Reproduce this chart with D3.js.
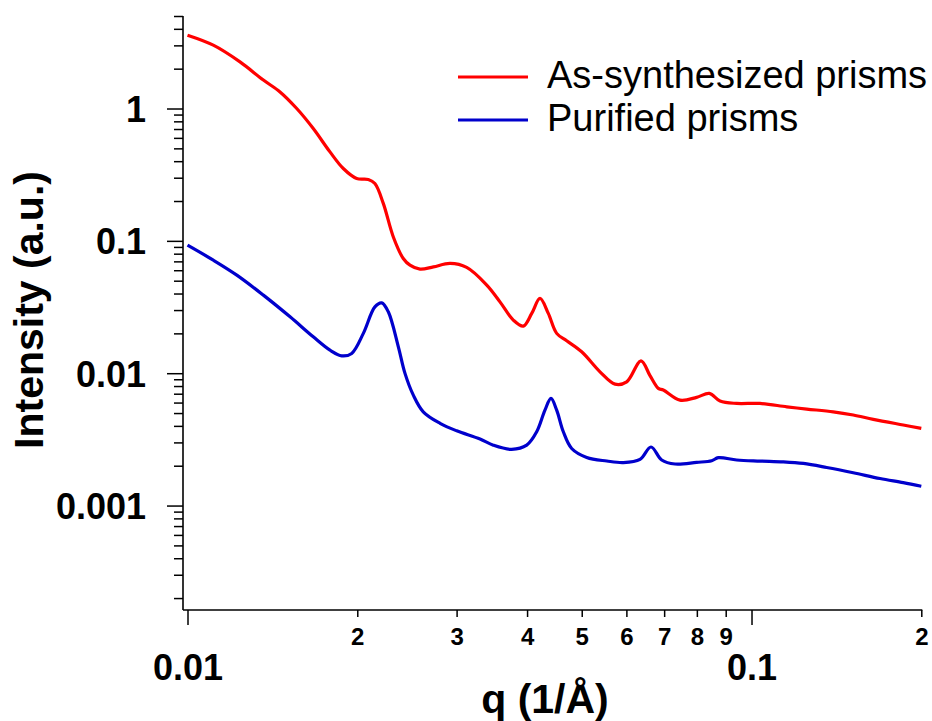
<!DOCTYPE html>
<html>
<head>
<meta charset="utf-8">
<script src="https://cdn.jsdelivr.net/npm/d3@7"></script>
<style>
  html, body { margin: 0; padding: 0; background: #fff; }
  svg { display: block; }
  text { font-family: "Liberation Sans", Arial, Helvetica, sans-serif; fill: #000; }
</style>
</head>
<body>
<svg id="chart" width="932" height="721"></svg>
<script>
// SAXS intensity profiles, q in 1/Å, intensity in arbitrary units
const seriesNames = ["As-synthesized prisms", "Purified prisms"];
const seriesColors = ["#ff0000", "#0000cc"];

const qAsSynth = [0.0100,0.01111,0.01239,0.01363,0.01459,0.01562,0.01671,0.01789,0.01889,0.01995,
  0.02092,0.02149,0.02224,0.02317,0.02413,0.02480,0.02584,0.02729,0.02921,0.03126,
  0.03393,0.03581,0.03781,0.03939,0.04077,0.04217,0.04362,0.04514,0.04702,0.04999,
  0.05387,0.05728,0.06008,0.06369,0.06607,0.06836,0.06976,0.07468,0.07992,0.08419,
  0.08794,0.09414,0.1035,0.1155,0.1253,0.1396,0.1515,0.1644,0.1858,0.2000];
const iAsSynth = [3.58,3.01,2.25,1.64,1.335,1.0,0.706,0.470,0.352,0.296,
  0.291,0.271,0.192,0.107,0.0736,0.0655,0.0611,0.0636,0.0675,0.0630,
  0.0463,0.0346,0.0252,0.0227,0.0283,0.0367,0.0283,0.0200,0.01757,0.01451,
  0.01025,0.00827,0.00861,0.01241,0.00959,0.00768,0.00746,0.00626,0.00657,0.00704,
  0.00616,0.00591,0.00591,0.00557,0.00536,0.00511,0.00483,0.00448,0.00406,0.00383];

const qPurified = [0.0100,0.01111,0.01223,0.01363,0.01520,0.01671,0.01789,0.01877,0.01955,0.02050,
  0.02149,0.02210,0.02270,0.02365,0.02430,0.02514,0.02618,0.02804,0.03001,0.03301,
  0.03485,0.03756,0.03994,0.04160,0.04303,0.04410,0.04514,0.04638,0.04799,0.05103,
  0.05539,0.05926,0.06343,0.06634,0.06930,0.07318,0.07992,0.08500,0.08732,0.09414,
  0.1035,0.1139,0.1236,0.1359,0.1515,0.1690,0.1858,0.2000];
const iPurified = [0.0928,0.0715,0.0551,0.0389,0.02667,0.01883,0.01494,0.01353,0.01411,0.0200,
  0.0317,0.0340,0.0291,0.01582,0.00997,0.00683,0.00511,0.00418,0.00367,0.00318,
  0.00286,0.00266,0.00286,0.00361,0.00526,0.00645,0.00526,0.00361,0.00270,0.00231,
  0.00217,0.00211,0.00223,0.00277,0.00221,0.00206,0.00212,0.00218,0.00230,0.00221,
  0.00217,0.00214,0.00208,0.00194,0.00177,0.00160,0.00149,0.00140];

// axis ticks
const xMajorTicks = [0.01, 0.1];
const xMajorLabels = ["0.01", "0.1"];
const xMinorTicks = [0.02,0.03,0.04,0.05,0.06,0.07,0.08,0.09,0.2];
const xMinorLabels = ["2","3","4","5","6","7","8","9","2"];
const yMajorTicks = [0.001, 0.01, 0.1, 1];
const yMajorLabels = ["0.001", "0.01", "0.1", "1"];
const yMinorTicks = [];
[0.0001, 0.001, 0.01, 0.1, 1].forEach(d => {
  for (let k = 2; k <= 9; k++) {
    const v = d * k;
    if (v >= 0.00017 && v <= 5.0001) yMinorTicks.push(v);
  }
});

const svg = d3.select("#chart");

const x = d3.scaleLog().domain([0.01, 0.2]).range([187.5, 921.3]);
const y = d3.scaleLog().domain([1.625e-4, 5]).range([610, 16]);

const axisLeftX = 183;
const axisBottomY = 610;

// y axis: minor ticks, then major ticks with labels
const gyMinor = svg.append("g").attr("transform", `translate(${axisLeftX},0)`)
  .call(d3.axisLeft(y).tickValues(yMinorTicks).tickSize(9).tickSizeOuter(0).tickFormat(""));
gyMinor.select(".domain").remove();

const gyMajor = svg.append("g").attr("transform", `translate(${axisLeftX},0)`)
  .call(d3.axisLeft(y).tickValues(yMajorTicks).tickSize(16).tickSizeOuter(0).tickPadding(21)
    .tickFormat((d, i) => yMajorLabels[i]));
gyMajor.select(".domain").remove();
gyMajor.selectAll("text")
  .attr("font-size", 36).attr("font-weight", "bold").attr("dy", "0.36em");

// x axis: minor ticks with small digit labels, major ticks with decade labels
const gxMinor = svg.append("g").attr("transform", `translate(0,${axisBottomY})`)
  .call(d3.axisBottom(x).tickValues(xMinorTicks).tickSize(7).tickSizeOuter(0).tickPadding(11)
    .tickFormat((d, i) => xMinorLabels[i]));
gxMinor.select(".domain").remove();
gxMinor.selectAll("text").attr("font-size", 24).attr("font-weight", "bold");

const gxMajor = svg.append("g").attr("transform", `translate(0,${axisBottomY})`)
  .call(d3.axisBottom(x).tickValues(xMajorTicks).tickSize(15).tickSizeOuter(0).tickPadding(29)
    .tickFormat((d, i) => xMajorLabels[i]));
gxMajor.select(".domain").remove();
gxMajor.selectAll("text").attr("font-size", 36).attr("font-weight", "bold");

svg.selectAll(".tick line").attr("stroke", "#000").attr("stroke-width", 1.5);
svg.selectAll(".tick text").style("fill", "#000");

// axis lines
svg.append("line")
  .attr("x1", axisLeftX).attr("x2", axisLeftX)
  .attr("y1", y.range()[1]).attr("y2", axisBottomY)
  .attr("stroke", "#000").attr("stroke-width", 1.6);
svg.append("line")
  .attr("x1", axisLeftX).attr("x2", x.range()[1] + 1)
  .attr("y1", axisBottomY).attr("y2", axisBottomY)
  .attr("stroke", "#000").attr("stroke-width", 1.6);

// curves
const line = d3.line()
  .x(d => x(d[0]))
  .y(d => y(d[1]))
  .curve(d3.curveCatmullRom.alpha(0.5));

const series = [
  { q: qAsSynth, v: iAsSynth },
  { q: qPurified, v: iPurified }
];
series.forEach((s, k) => {
  svg.append("path")
    .datum(s.q.map((q, i) => [q, s.v[i]]))
    .attr("fill", "none")
    .attr("stroke", seriesColors[k])
    .attr("stroke-width", 3.2)
    .attr("stroke-linejoin", "round")
    .attr("d", line);
});

// axis titles
svg.append("text")
  .attr("transform", "translate(43,310) rotate(-90)")
  .attr("text-anchor", "middle")
  .attr("font-size", 41).attr("font-weight", "bold")
  .text("Intensity (a.u.)");

svg.append("text")
  .attr("x", 545).attr("y", 713)
  .attr("text-anchor", "middle")
  .attr("font-size", 41).attr("font-weight", "bold")
  .text("q (1/Å)");

// legend
const legend = svg.append("g");
const legendRows = [77, 120];
seriesNames.forEach((name, k) => {
  legend.append("line")
    .attr("x1", 458).attr("x2", 528)
    .attr("y1", legendRows[k]).attr("y2", legendRows[k])
    .attr("stroke", seriesColors[k]).attr("stroke-width", 3.2);
  legend.append("text")
    .attr("x", 547).attr("y", legendRows[k] + 11)
    .attr("font-size", 38)
    .text(name);
});
</script>
</body>
</html>
